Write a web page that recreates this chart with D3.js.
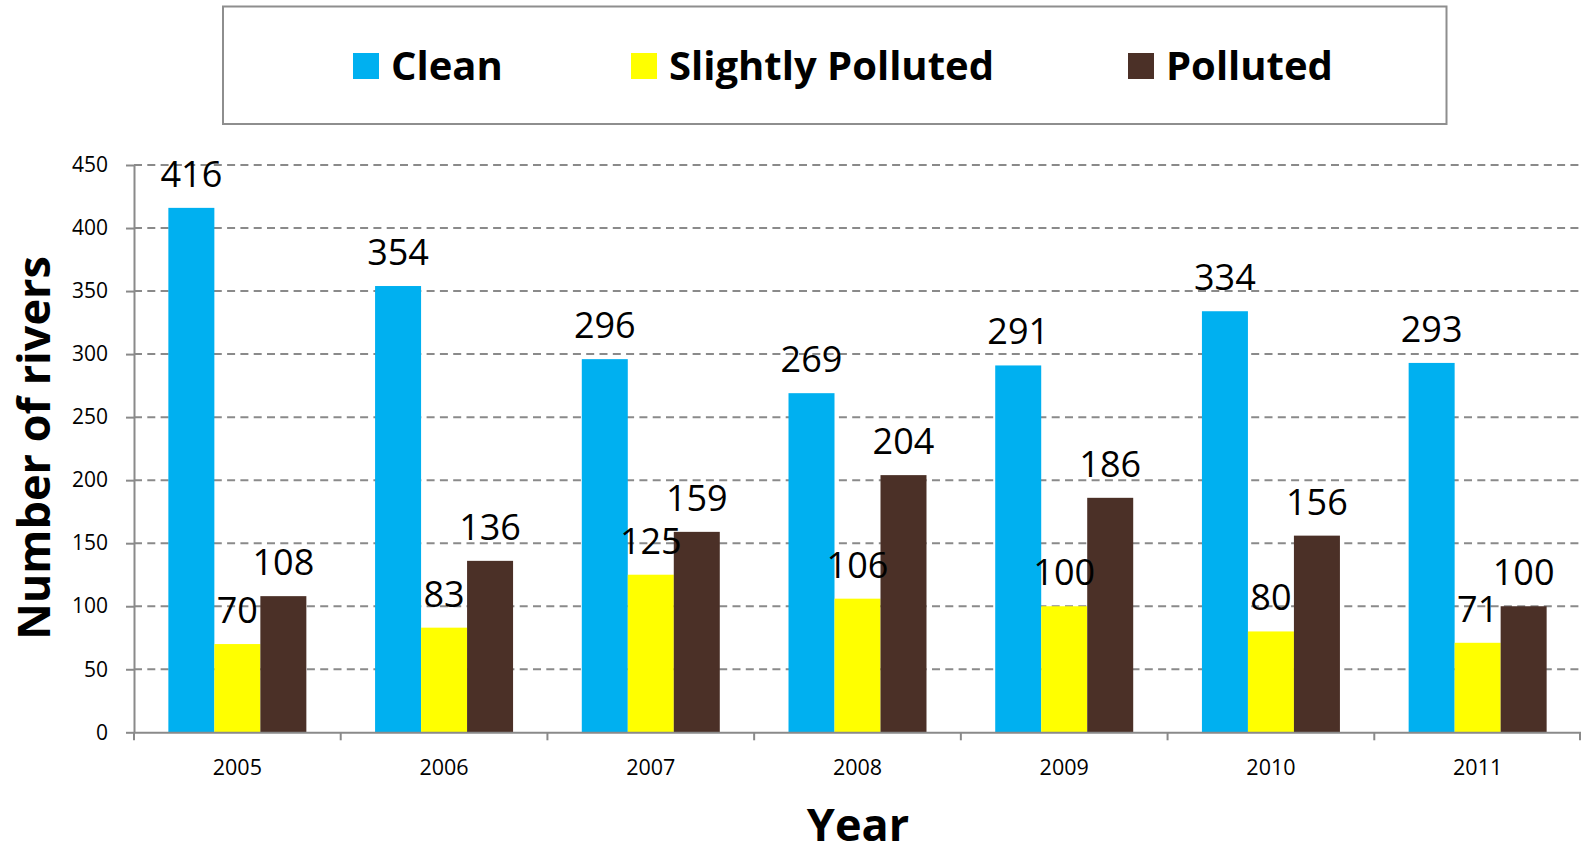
<!DOCTYPE html>
<html>
<head>
<meta charset="utf-8">
<script src="https://cdn.jsdelivr.net/npm/d3@7"></script>
<style>
  html, body { margin: 0; padding: 0; background: #fff; }
  svg { display: block; font-family: "Open Sans", "Noto Sans", sans-serif; }
</style>
</head>
<body>
<svg id="chart" width="1581" height="847"></svg>
<script>
const years = ["2005", "2006", "2007", "2008", "2009", "2010", "2011"];
const seriesNames = ["Clean", "Slightly Polluted", "Polluted"];
const cleanValues = [416, 354, 296, 269, 291, 334, 293];
const slightlyPollutedValues = [70, 83, 125, 106, 100, 80, 71];
const pollutedValues = [108, 136, 159, 204, 186, 156, 100];
const yTicks = [0, 50, 100, 150, 200, 250, 300, 350, 400, 450];
const colors = ["#00B0F0", "#FFFF00", "#4B3027"];

const seriesValues = [cleanValues, slightlyPollutedValues, pollutedValues];

const svg = d3.select("#chart");
const plotLeft = 134, plotRight = 1581, plotTop = 165, plotBottom = 732.3;

const x0 = d3.scaleBand().domain(years).range([plotLeft, plotRight]).paddingInner(0).paddingOuter(0);
const x1 = d3.scaleBand().domain(seriesNames).range([0, x0.bandwidth()]).paddingInner(0).paddingOuter(0.747);
const y = d3.scaleLinear().domain([0, 450]).range([plotBottom, plotTop]);
const color = d3.scaleOrdinal().domain(seriesNames).range(colors);

// gridlines
svg.append("g")
  .selectAll("line")
  .data(yTicks.filter(d => d > 0))
  .join("line")
  .attr("x1", plotLeft).attr("x2", plotRight)
  .attr("y1", d => y(d)).attr("y2", d => y(d))
  .attr("stroke", "#8a8a8a")
  .attr("stroke-width", 2)
  .attr("stroke-dasharray", "8,5.3");

// bars
const rows = years.map((yr, i) => ({ year: yr, vals: seriesNames.map((s, j) => ({ key: s, value: seriesValues[j][i] })) }));
const groups = svg.append("g").selectAll("g")
  .data(rows).join("g")
  .attr("transform", d => `translate(${x0(d.year)},0)`);

groups.selectAll("rect")
  .data(d => d.vals).join("rect")
  .attr("x", d => x1(d.key))
  .attr("width", x1.bandwidth())
  .attr("y", d => y(d.value))
  .attr("height", d => y(0) - y(d.value))
  .attr("fill", d => color(d.key));

// y axis
const yAxis = d3.axisLeft(y).tickValues(yTicks).tickSize(8).tickPadding(18).tickSizeOuter(0);
const gy = svg.append("g").attr("transform", `translate(${plotLeft},0)`).call(yAxis);
gy.select(".domain").attr("stroke", "#8a8a8a").attr("stroke-width", 2);
gy.selectAll(".tick line").attr("stroke", "#8a8a8a").attr("stroke-width", 2);
gy.selectAll(".tick text").attr("font-size", 21).attr("fill", "#000")
  .attr("font-family", "'Open Sans', sans-serif");

// x axis
const xAxis = d3.axisBottom(x0).tickSize(0).tickPadding(0).tickSizeOuter(0);
const gx = svg.append("g").attr("transform", `translate(0,${plotBottom})`).call(xAxis);
gx.select(".domain").attr("stroke", "#8a8a8a").attr("stroke-width", 2);
gx.selectAll(".tick text").attr("font-size", 21.5).attr("fill", "#000")
  .attr("font-family", "'Open Sans', sans-serif")
  .attr("dy", null).attr("y", 43);
// category boundary ticks
const boundaries = years.map(yr => x0(yr)).concat([x0(years[years.length - 1]) + x0.bandwidth()]);
svg.append("g").selectAll("line")
  .data(boundaries).join("line")
  .attr("x1", d => Math.min(d, plotRight - 1)).attr("x2", d => Math.min(d, plotRight - 1))
  .attr("y1", plotBottom).attr("y2", plotBottom + 8)
  .attr("stroke", "#8a8a8a").attr("stroke-width", 2);

// data labels
groups.selectAll("text.lbl")
  .data(d => d.vals).join("text")
  .attr("class", "lbl")
  .attr("x", d => x1(d.key) + x1.bandwidth() / 2)
  .attr("y", d => y(d.value) - 21)
  .attr("text-anchor", "middle")
  .attr("font-size", 36)
  .attr("fill", "#000")
  .text(d => d.value);

// legend
svg.append("rect")
  .attr("x", 223).attr("y", 6.5).attr("width", 1223.5).attr("height", 117.5)
  .attr("fill", "#fff").attr("stroke", "#8e8e8e").attr("stroke-width", 2);
const legendX = [353, 631, 1128];
const legend = svg.append("g").selectAll("g")
  .data(seriesNames).join("g")
  .attr("transform", (d, i) => `translate(${legendX[i]},0)`);
legend.append("rect")
  .attr("x", 0).attr("y", 53).attr("width", 26).attr("height", 26)
  .attr("fill", d => color(d));
legend.append("text")
  .attr("x", 38).attr("y", 80)
  .attr("font-size", 40).attr("font-weight", 700).attr("fill", "#000")
  .text(d => d);

// axis titles
svg.append("text")
  .attr("transform", "translate(50,448) rotate(-90)")
  .attr("text-anchor", "middle")
  .attr("font-size", 45).attr("font-weight", 700).attr("fill", "#000")
  .text("Number of rivers");
svg.append("text")
  .attr("x", 858).attr("y", 841)
  .attr("text-anchor", "middle")
  .attr("font-size", 45).attr("font-weight", 700).attr("fill", "#000")
  .text("Year");
</script>
</body>
</html>
